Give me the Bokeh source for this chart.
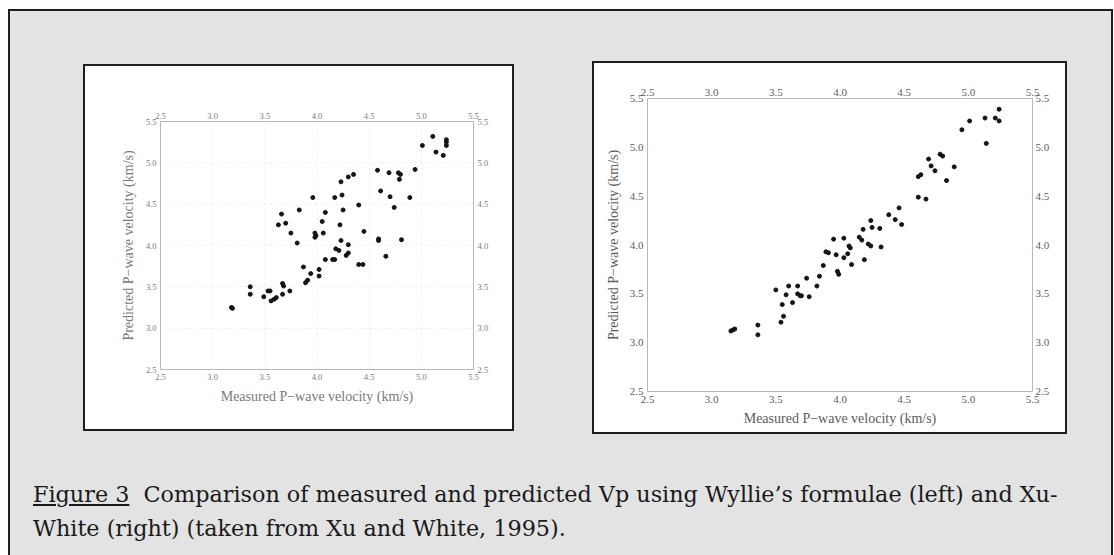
from bokeh.plotting import figure
from bokeh.models import Range1d, LinearAxis, FixedTicker, Div
from bokeh.layouts import column, row
from bokeh.embed import file_html
from bokeh.resources import INLINE

# ---------------- data ----------------
ticks = [2.5, 3.0, 3.5, 4.0, 4.5, 5.0, 5.5]
tick_labels = ["2.5", "3.0", "3.5", "4.0", "4.5", "5.0", "5.5"]
x_title = "Measured P\u2212wave velocity (km/s)"
y_title = "Predicted P\u2212wave velocity (km/s)"

wyllie_measured = [3.18, 3.19, 3.36, 3.36, 3.49, 3.53, 3.55, 3.56, 3.59, 3.61, 3.67, 3.67, 3.68, 3.74,
                   3.63, 3.66, 3.70, 3.75, 3.81, 3.83, 3.87, 3.89, 3.91, 3.94, 3.96, 3.98, 3.99, 3.98,
                   4.02, 4.02, 4.06, 4.05, 4.08, 4.08, 4.15, 4.17, 4.17, 4.18, 4.21, 4.22, 4.23, 4.23,
                   4.24, 4.25, 4.28, 4.30, 4.30, 4.30, 4.35, 4.40, 4.40, 4.44, 4.45, 4.58, 4.59, 4.59,
                   4.61, 4.66, 4.69, 4.70, 4.74, 4.78, 4.80, 4.79, 4.81, 4.89, 4.94, 5.01, 5.11, 5.14,
                   5.21, 5.24, 5.24, 5.24]
wyllie_predicted = [3.25, 3.24, 3.50, 3.41, 3.38, 3.45, 3.45, 3.33, 3.35, 3.37, 3.41, 3.54, 3.51, 3.45,
                    4.25, 4.38, 4.27, 4.15, 4.03, 4.43, 3.74, 3.55, 3.58, 3.66, 4.58, 4.15, 4.12, 4.10,
                    3.71, 3.63, 4.15, 4.29, 4.40, 3.83, 3.83, 3.83, 4.58, 3.96, 3.94, 4.25, 4.06, 4.77,
                    4.61, 4.43, 3.88, 4.01, 3.91, 4.83, 4.86, 4.49, 3.77, 3.77, 4.17, 4.91, 4.08, 4.06,
                    4.66, 3.87, 4.88, 4.59, 4.46, 4.88, 4.86, 4.80, 4.07, 4.58, 4.92, 5.21, 5.32, 5.13,
                    5.09, 5.28, 5.25, 5.21]

xuwhite_measured = [3.15, 3.165, 3.18, 3.36, 3.36, 3.50, 3.54, 3.56, 3.55, 3.58, 3.60, 3.63, 3.67, 3.67,
                    3.69, 3.70, 3.74, 3.76, 3.82, 3.84, 3.87, 3.89, 3.91, 3.95, 3.97, 3.98, 3.99, 4.03,
                    4.03, 4.06, 4.07, 4.08, 4.09, 4.15, 4.17, 4.18, 4.19, 4.22, 4.24, 4.24, 4.25, 4.31,
                    4.32, 4.38, 4.43, 4.46, 4.48, 4.61, 4.61, 4.63, 4.67, 4.69, 4.71, 4.74, 4.78, 4.80,
                    4.83, 4.89, 4.95, 5.01, 5.13, 5.14, 5.24, 5.21, 5.24]
xuwhite_predicted = [3.12, 3.13, 3.14, 3.18, 3.08, 3.54, 3.21, 3.27, 3.39, 3.49, 3.58, 3.41, 3.58, 3.50,
                     3.48, 3.48, 3.66, 3.47, 3.58, 3.68, 3.79, 3.93, 3.92, 4.06, 3.90, 3.73, 3.70, 4.07,
                     3.87, 3.91, 3.99, 3.97, 3.80, 4.08, 4.05, 4.16, 3.85, 4.01, 3.99, 4.25, 4.18, 4.17,
                     3.98, 4.31, 4.26, 4.38, 4.21, 4.49, 4.70, 4.72, 4.47, 4.88, 4.81, 4.76, 4.93, 4.91,
                     4.66, 4.80, 5.18, 5.27, 5.30, 5.04, 5.39, 5.30, 5.27]

caption_line1 = "Comparison of measured and predicted Vp using Wyllie\u2019s formulae (left) and Xu-"
caption_line2 = "White (right) (taken from Xu and White, 1995)."

SERIF = "Liberation Serif"
BORDER_TOP = 35
BORDER_BOTTOM = 41


def make_panel(xs, ys, w, h, bl, br, tick_fs, lab_fs, col, st, grid, margin, dot):
    p = figure(width=w, height=h, x_range=Range1d(2.5, 5.5), y_range=Range1d(2.5, 5.5),
               output_backend="svg", toolbar_location=None,
               min_border_left=bl, min_border_right=br,
               min_border_top=BORDER_TOP, min_border_bottom=BORDER_BOTTOM,
               background_fill_color="white", border_fill_color="white",
               x_axis_label=x_title, y_axis_label=y_title, margin=margin)
    p.outline_line_color = "#b8b8b8"
    p.outline_line_width = 1
    p.add_layout(LinearAxis(), "above")
    p.add_layout(LinearAxis(), "right")
    overrides = {t: s for t, s in zip(ticks, tick_labels)}
    for ax in p.axis:
        ax.ticker = FixedTicker(ticks=ticks)
        ax.major_label_overrides = overrides
        ax.axis_line_color = None
        ax.major_tick_line_color = None
        ax.minor_tick_line_color = None
        ax.major_tick_in = 0
        ax.major_tick_out = 0
        ax.minor_tick_in = 0
        ax.minor_tick_out = 0
        ax.major_label_text_font = SERIF
        ax.major_label_text_font_size = f"{tick_fs}px"
        ax.major_label_text_color = col
        ax.axis_label_text_font = SERIF
        ax.axis_label_text_font_size = f"{lab_fs}px"
        ax.axis_label_text_font_style = "normal"
        ax.axis_label_text_color = col
    p.below[0].major_label_standoff = st["b"]
    p.below[0].axis_label_standoff = st["bl"]
    p.left[0].major_label_standoff = st["l"]
    p.left[0].axis_label_standoff = st["ll"]
    p.above[0].major_label_standoff = st["t"]
    p.right[0].major_label_standoff = st["r"]
    if grid:
        p.grid.ticker = FixedTicker(ticks=ticks)
        p.grid.grid_line_color = "#dcdcdc"
        p.grid.grid_line_dash = "1 4"
        p.grid.grid_line_width = 1
    else:
        p.grid.grid_line_color = None
    p.scatter(xs, ys, size=dot, color="#141414")
    return p


box_style = {"background-color": "white", "outline": "2px solid #1e1e1e"}

# left: frame 248 px high, figure placed 20 px below the top of its white box
left = make_panel(wyllie_measured, wyllie_predicted, 427, BORDER_TOP + 248 + BORDER_BOTTOM, 75, 39, 8.5, 14,
                  "#7a7a7a", {"b": 4, "bl": 6, "l": 4, "ll": 7, "t": 3, "r": 4}, True, (20, 0, 0, 0), 4)
left_box = column(left, width=427, height=363, margin=(55, 0, 0, 75), styles=box_style)

right = make_panel(xuwhite_measured, xuwhite_predicted, 471, BORDER_TOP + 292 + BORDER_BOTTOM + 1, 53, 33, 11, 14,
                   "#5c5c5c", {"b": 4, "bl": 5, "l": 4, "ll": 6, "t": 3, "r": 3}, False, (0, 0, 0, 0), 4)
right_box = column(right, width=471, height=369, margin=(52, 0, 0, 82), styles=box_style)

caption = Div(
    text=('<div style="font-family:\'DejaVu Serif\'; font-size:22.3px; line-height:34px; color:#1a1a1a; white-space:nowrap;">'
          '<u>Figure 3</u>&nbsp;&nbsp;' + caption_line1 + '<br>' + caption_line2 + '</div>'),
    width=1075, height=78, margin=(45, 0, 0, 23))

page = column(row(left_box, right_box), caption, width=1101, height=544, margin=(11, 0, 0, 10),
              styles={"background-color": "#e3e3e3", "outline": "2px solid #1e1e1e"})

open("out.html", "w").write(file_html(page, INLINE))
